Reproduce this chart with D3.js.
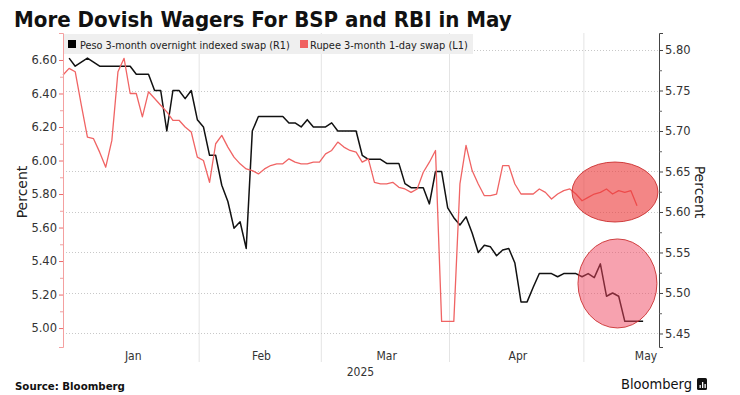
<!DOCTYPE html>
<html><head><meta charset="utf-8">
<script src="https://cdn.jsdelivr.net/npm/d3@7"></script>
<style>body{margin:0;background:#fff;} svg{display:block;}</style>
</head><body><svg id="c" width="740" height="395"></svg>
<script>
// ---------- data ----------
const titleText = "More Dovish Wagers For BSP and RBI in May";
const pesoLabel = "Peso 3-month overnight indexed swap (R1)";
const rupeeLabel = "Rupee 3-month 1-day swap (L1)";
const sourceText = "Source: Bloomberg";
const brandText = "Bloomberg";
const axisTitle = "Percent";
const startDate = "2025-01-02";   // first business day shown; one value per business day
const monthLabels = ["Jan", "Feb", "Mar", "Apr", "May"];
const yearLabel = "2025";
const leftTicks = [5.00, 5.20, 5.40, 5.60, 5.80, 6.00, 6.20, 6.40, 6.60];
const rightTicks = [5.45, 5.50, 5.55, 5.60, 5.65, 5.70, 5.75, 5.80];

// Rupee 3-month 1-day swap (left axis)
const rupeeSwap = [6.51,6.55,6.53,6.33,6.14,6.13,6.05,5.96,6.12,6.53,
 6.61,6.40,6.40,6.26,6.41,6.37,6.33,6.29,6.24,6.24,
 6.20,6.17,6.02,6.00,5.87,6.10,6.15,6.08,6.02,5.98,
 5.95,5.94,5.92,5.95,5.97,5.98,5.98,6.01,5.99,5.98,
 5.98,5.99,5.99,6.04,6.06,6.11,6.08,6.06,6.05,5.99,
 6.01,5.87,5.86,5.86,5.87,5.84,5.83,5.81,5.83,5.93,
 5.99,6.06,5.04,5.04,5.04,5.86,6.09,5.94,5.86,5.79,
 5.79,5.80,5.97,5.97,5.86,5.80,5.80,5.80,5.83,5.81,
 5.77,5.80,5.82,5.83,5.80,5.76,5.78,5.80,5.81,5.83,
 5.80,5.82,5.81,5.82,5.73];

// Peso 3-month OIS (right axis)
const pesoSwap = [null,5.79,5.78,5.785,5.79,5.785,5.78,5.78,5.78,5.78,
 5.78,5.78,5.77,5.77,5.77,5.75,5.75,5.70,5.75,5.75,
 5.74,5.75,5.714,5.705,5.67,5.67,5.633,5.613,5.58,5.588,
 5.555,5.70,5.718,5.718,5.718,5.718,5.718,5.71,5.71,5.705,
 5.714,5.705,5.705,5.705,5.71,5.70,5.70,5.70,5.70,5.67,
 5.665,5.665,5.665,5.66,5.66,5.66,5.635,5.63,5.63,5.63,
 5.61,5.65,5.65,5.605,5.593,5.584,5.594,5.574,5.55,5.559,
 5.557,5.546,5.553,5.555,5.537,5.489,5.489,5.507,5.524,5.524,
 5.524,5.52,5.524,5.524,5.524,5.52,5.524,5.519,5.536,5.496,
 5.50,5.496,5.465,5.465,5.465,5.465];

// highlight ellipses (bounding boxes in business-day index / axis units)
const highlightAxis = ["L", "R"];
const highlightX0 = [83.35, 84.33];
const highlightX1 = [97.43, 97.26];
const highlightY0 = [5.633, 5.4568];
const highlightY1 = [5.991, 5.5667];
const highlightFill = ["rgba(235,60,60,0.62)", "rgba(240,70,95,0.5)"];

// ---------- layout ----------
const svg = d3.select("#c");
const M = {left: 63, right: 659, top: 33, bottom: 347};

// business days
const days = [];
{ let d = d3.utcParse("%Y-%m-%d")(startDate);
  while (days.length < 120) { const wd = d.getUTCDay(); if (wd !== 0 && wd !== 6) days.push(d); d = d3.utcDay.offset(d, 1); } }

const x = d3.scaleLinear().domain([0, 97.6]).range([M.left, M.right]);
const yL = d3.scaleLinear().domain([4.887, 6.761]).range([M.bottom, M.top]);
const yR = d3.scaleLinear().domain([5.4333, 5.821]).range([M.bottom, M.top]);

function fit(sel, w) {
  const cur = sel.node().getComputedTextLength();
  const fs = parseFloat(sel.attr("font-size"));
  sel.attr("font-size", (fs * w / cur).toFixed(2));
}

// title
const t = svg.append("text").attr("x", 14).attr("y", 27).attr("font-family", "DejaVu Sans Condensed, DejaVu Sans")
  .attr("font-weight", "bold").attr("font-size", 20).attr("fill", "#111").text(titleText);
fit(t, 498);

// month boundaries
const monthFirst = monthLabels.map((m, i) => days.findIndex(d => d.getUTCMonth() === i));
monthFirst.push(days.findIndex(d => d.getUTCMonth() === monthLabels.length));
const gV = svg.append("g");
monthFirst.slice(1, monthLabels.length).forEach(i => {
  gV.append("line").attr("x1", x(i + 0.3)).attr("x2", x(i + 0.3)).attr("y1", M.top).attr("y2", 362)
    .attr("stroke", "#e4e4e4").attr("stroke-width", 1);
});

// horizontal gridlines (right axis)
const gH = svg.append("g");
rightTicks.forEach(v => {
  gH.append("line").attr("x1", M.left).attr("x2", M.right).attr("y1", Math.round(yR(v)) + 0.5).attr("y2", Math.round(yR(v)) + 0.5)
    .attr("stroke", "#c8c8c8").attr("stroke-dasharray", "1,2").attr("stroke-width", 1);
});

// legend
svg.append("rect").attr("x", M.left).attr("y", 34).attr("width", 410).attr("height", 20).attr("fill", "#efefef");
svg.append("rect").attr("x", 68).attr("y", 40).attr("width", 8).attr("height", 8).attr("fill", "#000");
const l1 = svg.append("text").attr("x", 80).attr("y", 48.5).attr("font-family", "DejaVu Sans").attr("font-size", 10.5).attr("fill", "#222").text(pesoLabel);
fit(l1, 210);
svg.append("rect").attr("x", 300).attr("y", 40).attr("width", 8).attr("height", 8).attr("fill", "#f06060");
const l2 = svg.append("text").attr("x", 310).attr("y", 48.5).attr("font-family", "DejaVu Sans").attr("font-size", 10.5).attr("fill", "#222").text(rupeeLabel);
fit(l2, 158);

// lines
const line = (ys) => d3.line().defined(d => d != null).x((d, i) => x(i)).y(d => ys(d));
svg.append("path").datum(pesoSwap).attr("d", line(yR)).attr("fill", "none").attr("stroke", "#111").attr("stroke-width", 1.5).attr("stroke-linejoin", "round");
svg.append("path").datum(rupeeSwap).attr("d", line(yL)).attr("fill", "none").attr("stroke", "#f06464").attr("stroke-width", 1.3).attr("stroke-linejoin", "round");

// highlight ellipses
highlightAxis.forEach((a, k) => {
  const ys = a === "L" ? yL : yR;
  const cx = (x(highlightX0[k]) + x(highlightX1[k])) / 2;
  const cy = (ys(highlightY0[k]) + ys(highlightY1[k])) / 2;
  svg.append("ellipse").attr("cx", cx).attr("cy", cy)
    .attr("rx", Math.abs(x(highlightX1[k]) - x(highlightX0[k])) / 2)
    .attr("ry", Math.abs(ys(highlightY1[k]) - ys(highlightY0[k])) / 2)
    .attr("fill", highlightFill[k]).attr("stroke", "rgba(200,40,40,0.85)").attr("stroke-width", 1);
});

// left axis
const mid = (arr) => arr.slice(0, -1).map((v, i) => (v + arr[i + 1]) / 2);
const gl = svg.append("g").attr("transform", `translate(${M.left},0)`)
  .call(d3.axisLeft(yL).tickValues(leftTicks).tickFormat(d3.format(".2f")).tickSize(4).tickPadding(2));
gl.select(".domain").attr("stroke", "#f4a0a0");
gl.selectAll(".tick line").attr("stroke", "#ec6b6b");
gl.selectAll(".tick text").attr("font-family", "DejaVu Sans").attr("font-size", 11.5).attr("fill", "#333");
const glm = svg.append("g").attr("transform", `translate(${M.left},0)`)
  .call(d3.axisLeft(yL).tickValues(mid(leftTicks)).tickFormat("").tickSize(3));
glm.select(".domain").remove();
glm.selectAll(".tick line").attr("stroke", "#f0a0a0");

// right axis
const gr = svg.append("g").attr("transform", `translate(${M.right},0)`)
  .call(d3.axisRight(yR).tickValues(rightTicks).tickFormat(d3.format(".2f")).tickSize(4).tickPadding(2));
gr.select(".domain").attr("stroke", "#444");
gr.selectAll(".tick line").attr("stroke", "#444");
gr.selectAll(".tick text").attr("font-family", "DejaVu Sans").attr("font-size", 11.5).attr("fill", "#333");
const grm = svg.append("g").attr("transform", `translate(${M.right},0)`)
  .call(d3.axisRight(yR).tickValues(mid(rightTicks)).tickFormat("").tickSize(3));
grm.select(".domain").remove();
grm.selectAll(".tick line").attr("stroke", "#666");

// axis titles
svg.append("text").attr("transform", `translate(27,${(M.top + M.bottom) / 2 + 2}) rotate(-90)`).attr("text-anchor", "middle")
  .attr("font-family", "DejaVu Sans").attr("font-size", 14).attr("fill", "#222").text(axisTitle);
svg.append("text").attr("transform", `translate(695,${(M.top + M.bottom) / 2 + 2}) rotate(90)`).attr("text-anchor", "middle")
  .attr("font-family", "DejaVu Sans").attr("font-size", 14).attr("fill", "#222").text(axisTitle);

// month labels
monthLabels.forEach((m, i) => {
  const cx = Math.min(x((monthFirst[i] + monthFirst[i + 1]) / 2 + 0.5), M.right - 13);
  svg.append("text").attr("x", cx).attr("y", 360).attr("text-anchor", "middle")
    .attr("font-family", "DejaVu Sans Condensed, DejaVu Sans").attr("font-size", 12).attr("fill", "#333").text(m);
});
svg.append("text").attr("x", x(monthFirst[2]) + 41).attr("y", 376).attr("text-anchor", "middle")
  .attr("font-family", "DejaVu Sans Condensed, DejaVu Sans").attr("font-size", 12).attr("fill", "#333").text(yearLabel);

// footer
const s = svg.append("text").attr("x", 15).attr("y", 390).attr("font-family", "DejaVu Sans Condensed, DejaVu Sans")
  .attr("font-weight", "bold").attr("font-size", 10.5).attr("fill", "#111").text(sourceText);
fit(s, 110);
const b = svg.append("text").attr("x", 621).attr("y", 389).attr("font-family", "DejaVu Sans Condensed, DejaVu Sans")
  .attr("font-size", 13).attr("font-weight", 500).attr("fill", "#111").text(brandText);
fit(b, 71);
svg.append("rect").attr("x", 697).attr("y", 378).attr("width", 10).attr("height", 12).attr("rx", 1.5).attr("fill", "#111");
[[699.5, 385, 3], [702, 382, 6], [704.5, 384, 4]].forEach(([bx, by, bh]) =>
  svg.append("rect").attr("x", bx).attr("y", by).attr("width", 1.3).attr("height", bh).attr("fill", "#fff"));
</script>
</body></html>
